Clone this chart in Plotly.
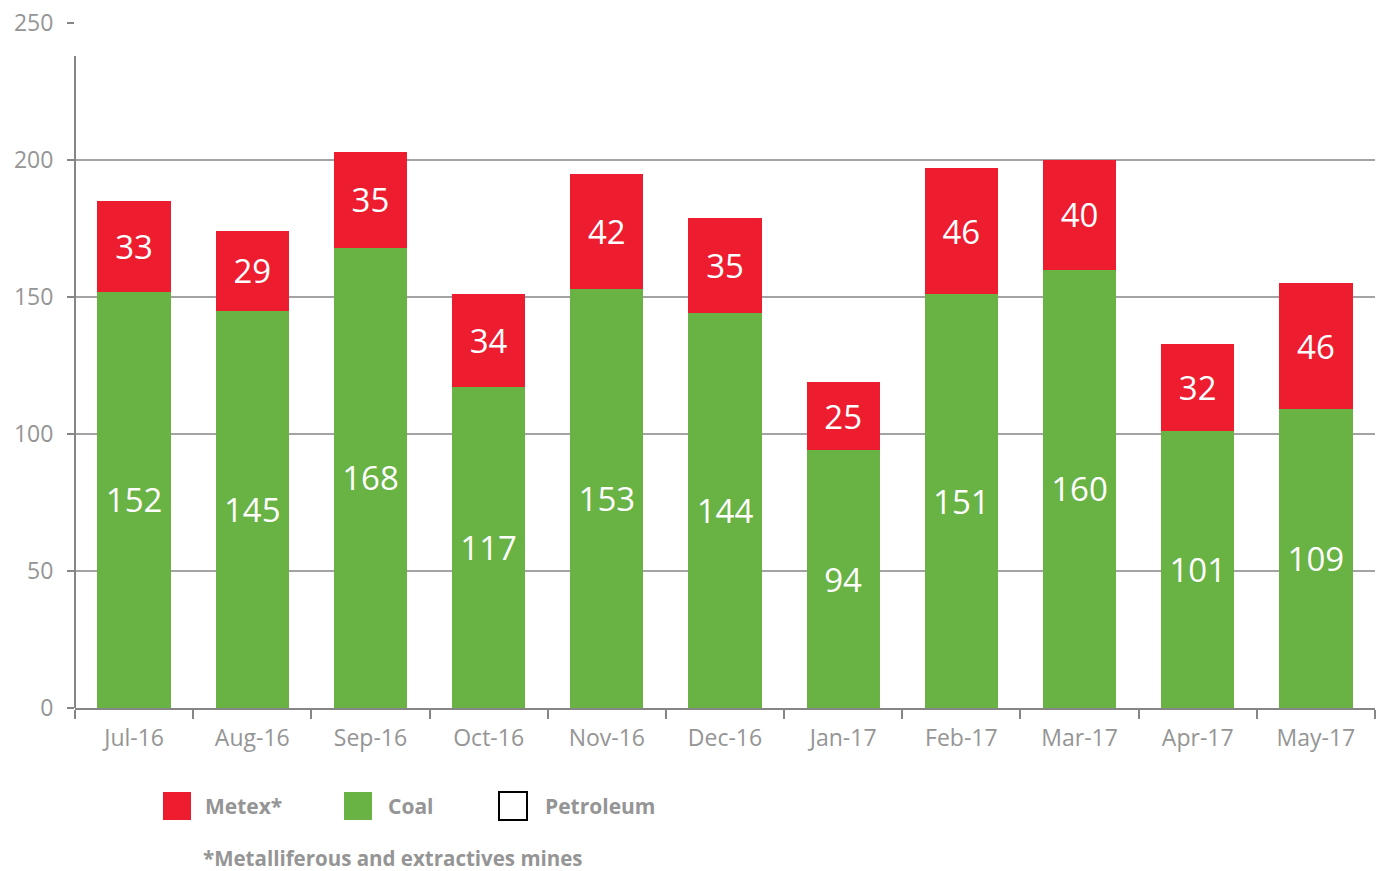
import plotly.graph_objects as go

months = ["Jul-16", "Aug-16", "Sep-16", "Oct-16", "Nov-16", "Dec-16",
          "Jan-17", "Feb-17", "Mar-17", "Apr-17", "May-17"]
coal = [152, 145, 168, 117, 153, 144, 94, 151, 160, 101, 109]
metex = [33, 29, 35, 34, 42, 35, 25, 46, 40, 32, 46]
y_ticks = [0, 50, 100, 150, 200, 250]
grid_vals = [50, 100, 150, 200]

RED = "#ED1C2F"
GREEN = "#69B244"
GRAY_TXT = "#959595"
GRID = "#A3A3A3"
AXIS = "#868686"
FONT = "Open Sans"

W, H = 1379, 871
# plot area target: x 75..1375, y 23..708 (screen px)
PX0, PX1, PY0, PY1 = 75, 1375, 23, 708


def px(x):
    return (x - PX0) / (PX1 - PX0)


def py(y):
    return (PY1 - y) / (PY1 - PY0)


fig = go.Figure()
fig.add_trace(go.Bar(
    x=months, y=coal, name="Coal", marker=dict(color=GREEN, line=dict(width=0)),
    text=[str(v) for v in coal], textposition="inside", insidetextanchor="middle",
    textfont=dict(color="white", size=33, family=FONT), showlegend=False))
fig.add_trace(go.Bar(
    x=months, y=metex, name="Metex*", marker=dict(color=RED, line=dict(width=0)),
    text=[str(v) for v in metex], textposition="inside", insidetextanchor="middle",
    textfont=dict(color="white", size=33, family=FONT), showlegend=False))

shapes = []
for g in grid_vals:
    shapes.append(dict(type="line", xref="paper", yref="y", x0=0, x1=1, y0=g, y1=g,
                       line=dict(color=GRID, width=2), layer="below"))
# left axis line
shapes.append(dict(type="line", xref="paper", yref="y", x0=0, x1=0, y0=0, y1=238,
                   line=dict(color=AXIS, width=2), layer="above"))

# manual legend: (label, fill, border, square left px, text left px)
legend_items = [("Metex*", RED, RED, 163, 203),
                ("Coal", GREEN, GREEN, 344, 386),
                ("Petroleum", "white", "black", 499, 543)]
annotations = []
for name, fill, border, sx, tx in legend_items:
    shapes.append(dict(type="rect", xref="paper", yref="paper",
                       x0=px(sx), x1=px(sx + 28), y0=py(820), y1=py(792),
                       fillcolor=fill, line=dict(color=border, width=2 if fill == "white" else 0)))
    annotations.append(dict(xref="paper", yref="paper", x=px(tx),
                            y=py(806), text="<b>" + name + "</b>",
                            showarrow=False, xanchor="left", yanchor="middle",
                            font=dict(size=21, color=GRAY_TXT, family=FONT)))
annotations.append(dict(xref="paper", yref="paper", x=px(201),
                        y=py(858), text="<b>*Metalliferous and extractives mines</b>",
                        showarrow=False, xanchor="left", yanchor="middle",
                        font=dict(size=20.5, color=GRAY_TXT, family=FONT)))

fig.update_layout(
    barmode="stack", bargap=0.38,
    width=W, height=H,
    margin=dict(l=PX0, r=W - PX1, t=PY0, b=H - PY1),
    paper_bgcolor="white", plot_bgcolor="white",
    font=dict(family=FONT, color=GRAY_TXT),
    showlegend=False,
    shapes=shapes, annotations=annotations,
    uniformtext=dict(mode="show", minsize=10),
)
fig.update_xaxes(
    type="category", showgrid=False, showline=True, linecolor=AXIS, linewidth=2,
    ticks="outside", tickson="boundaries", ticklen=9, tickcolor=AXIS, tickwidth=2,
    tickfont=dict(size=23, color=GRAY_TXT, family=FONT), ticklabelstandoff=8,
    automargin=False,
)
fig.update_yaxes(
    range=[0, 250], tickvals=y_ticks, showgrid=False, showline=False, zeroline=False,
    ticks="outside", ticklen=7, tickcolor=AXIS, tickwidth=2, ticklabeloverflow="allow",
    tickfont=dict(size=23, color=GRAY_TXT, family=FONT), ticklabelstandoff=9,
    automargin=False,
)

fig.write_html(
    "out.html",
    config={"displayModeBar": False},
    post_script="document.body.style.margin='0';document.body.style.overflow='hidden';",
)
